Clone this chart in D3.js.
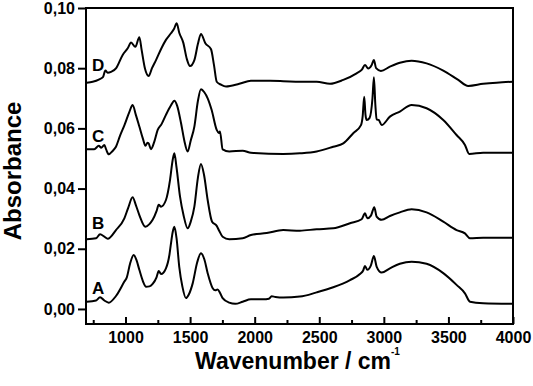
<!DOCTYPE html>
<html>
<head>
<meta charset="utf-8">
<script src="https://cdn.jsdelivr.net/npm/d3@7"></script>
<style>
  body { margin: 0; background: #fff; }
  svg text { font-family: "Liberation Sans", Arial, sans-serif; font-weight: bold; fill: #000; }
</style>
</head>
<body>
<div id="main"></div>
<script>
// FTIR spectra, [wavenumber, absorbance]
const seriesA = [[700,0.0024],[772,0.0028],[803,0.0039],[836,0.0028],[870,0.0021],[926,0.0043],[991,0.0091],[1010,0.0105],[1035,0.015],[1063,0.0179],[1085,0.0162],[1107,0.013],[1135,0.0092],[1159,0.0074],[1185,0.0075],[1210,0.0083],[1240,0.0105],[1257,0.0126],[1275,0.0116],[1313,0.0135],[1340,0.018],[1352,0.0218],[1365,0.0255],[1378,0.0273],[1395,0.0235],[1416,0.014],[1440,0.0075],[1468,0.0036],[1490,0.0048],[1520,0.0085],[1555,0.0155],[1584,0.0185],[1610,0.0165],[1636,0.0119],[1675,0.0069],[1695,0.0062],[1713,0.0065],[1730,0.0055],[1752,0.0036],[1803,0.0021],[1850,0.0017],[1907,0.0024],[1971,0.0032],[2067,0.0032],[2110,0.0034],[2131,0.0042],[2160,0.004],[2221,0.0038],[2350,0.0041],[2480,0.0055],[2608,0.0072],[2738,0.0096],[2815,0.0116],[2840,0.0128],[2854,0.0143],[2872,0.013],[2900,0.0145],[2923,0.0176],[2944,0.0141],[2983,0.0121],[3047,0.0135],[3124,0.015],[3215,0.0157],[3331,0.015],[3460,0.0119],[3563,0.008],[3628,0.0052],[3667,0.0024],[3769,0.0019],[4000,0.0017]];
const seriesB = [[700,0.0232],[772,0.0235],[803,0.0248],[836,0.024],[862,0.0233],[926,0.0262],[991,0.0301],[1020,0.0335],[1055,0.0371],[1080,0.0345],[1107,0.0312],[1154,0.0273],[1185,0.0282],[1210,0.0296],[1240,0.0325],[1257,0.0346],[1275,0.034],[1313,0.0362],[1345,0.043],[1365,0.0495],[1378,0.0517],[1395,0.047],[1422,0.0373],[1450,0.031],[1481,0.0268],[1505,0.029],[1533,0.034],[1560,0.0435],[1584,0.0482],[1608,0.0445],[1636,0.0362],[1670,0.029],[1706,0.0276],[1725,0.026],[1752,0.024],[1803,0.0232],[1907,0.0235],[1971,0.0246],[2093,0.0252],[2221,0.0262],[2350,0.026],[2480,0.0265],[2608,0.0268],[2738,0.0285],[2828,0.0298],[2854,0.0318],[2872,0.0301],[2900,0.031],[2926,0.0338],[2944,0.0307],[2983,0.0296],[3047,0.0309],[3124,0.0321],[3215,0.0331],[3331,0.0321],[3460,0.029],[3563,0.0262],[3628,0.0251],[3667,0.0235],[3769,0.0237],[4000,0.0237]];
const seriesC = [[700,0.0531],[758,0.0531],[793,0.0542],[812,0.0536],[836,0.0545],[850,0.053],[870,0.0514],[900,0.0525],[926,0.0539],[957,0.0575],[991,0.061],[1030,0.0655],[1055,0.0678],[1080,0.0645],[1107,0.0606],[1135,0.0565],[1154,0.0542],[1170,0.0552],[1179,0.055],[1197,0.0531],[1223,0.0556],[1249,0.0595],[1280,0.0615],[1313,0.0645],[1350,0.0675],[1378,0.0692],[1400,0.0675],[1430,0.0617],[1455,0.056],[1481,0.0523],[1505,0.056],[1533,0.0606],[1560,0.069],[1584,0.073],[1610,0.072],[1636,0.07],[1667,0.0661],[1706,0.0595],[1722,0.0585],[1731,0.059],[1752,0.053],[1803,0.0523],[1907,0.0526],[1971,0.0519],[2221,0.0515],[2350,0.0517],[2480,0.0523],[2608,0.0539],[2686,0.055],[2763,0.0584],[2823,0.0611],[2836,0.064],[2848,0.0705],[2858,0.0645],[2867,0.0628],[2890,0.0635],[2912,0.07],[2923,0.077],[2934,0.068],[2944,0.063],[2960,0.0628],[2983,0.0611],[3047,0.0639],[3124,0.0656],[3215,0.0678],[3331,0.0667],[3460,0.0628],[3563,0.0578],[3628,0.0545],[3661,0.0515],[3769,0.0519],[4000,0.0519]];
const seriesD = [[700,0.0752],[746,0.0755],[797,0.0763],[825,0.077],[844,0.0792],[862,0.0785],[888,0.0788],[926,0.0799],[978,0.0844],[1017,0.0866],[1043,0.0885],[1076,0.0871],[1107,0.0903],[1125,0.086],[1150,0.08],[1179,0.0774],[1205,0.08],[1236,0.0827],[1280,0.0868],[1313,0.0894],[1352,0.0916],[1375,0.093],[1396,0.0949],[1416,0.0918],[1447,0.0885],[1475,0.083],[1499,0.0807],[1533,0.0827],[1560,0.088],[1584,0.0914],[1618,0.0883],[1662,0.0863],[1685,0.081],[1706,0.0755],[1740,0.0745],[1778,0.0739],[1881,0.0748],[1971,0.0758],[2119,0.0758],[2221,0.0757],[2350,0.0755],[2480,0.0755],[2583,0.0748],[2686,0.0761],[2789,0.0783],[2830,0.0795],[2854,0.0811],[2879,0.0799],[2905,0.081],[2923,0.0827],[2940,0.08],[2977,0.0791],[3047,0.0805],[3124,0.0818],[3215,0.0825],[3331,0.0816],[3460,0.0792],[3576,0.0761],[3653,0.0741],[3769,0.0748],[3872,0.0752],[4000,0.0755]];

const seriesNames = ["A", "B", "C", "D"];
const labelPos = [[740, 0.005], [740, 0.0266], [740, 0.0556], [740, 0.0792]];

const xMajorTicks = [1000, 1500, 2000, 2500, 3000, 3500, 4000];
const xMinorTicks = [750, 1250, 1750, 2250, 2750, 3250, 3750];
const yTicks = [0, 0.02, 0.04, 0.06, 0.08, 0.10];

const ctx = {
    WIDTH: 533,
    HEIGHT: 386,
    margin: {top: 8, right: 20, bottom: 62, left: 86},
};

function createViz(){
    const m = ctx.margin;
    const w = ctx.WIDTH - m.left - m.right;
    const h = ctx.HEIGHT - m.top - m.bottom;

    const svg = d3.select("#main").append("svg")
        .attr("width", ctx.WIDTH)
        .attr("height", ctx.HEIGHT);
    const g = svg.append("g").attr("transform", `translate(${m.left},${m.top})`);

    const x = d3.scaleLinear().domain([694, 4000]).range([0, w]);
    const y = d3.scaleLinear().domain([-0.005, 0.10]).range([h, 0]);

    // x axis: inward ticks
    const xAxis = g.append("g").attr("transform", `translate(0,${h})`)
        .call(d3.axisBottom(x).tickValues(xMajorTicks).tickSize(-7).tickPadding(8).tickFormat(d3.format("d")));
    const xMinor = g.append("g").attr("transform", `translate(0,${h})`)
        .call(d3.axisBottom(x).tickValues(xMinorTicks).tickSize(-4).tickFormat(""));
    // y axis: outward ticks, comma decimals
    const yAxis = g.append("g")
        .call(d3.axisLeft(y).tickValues(yTicks).tickSize(8).tickPadding(3)
              .tickFormat(d => d3.format(".2f")(d).replace(".", ",")));

    [xAxis, xMinor, yAxis].forEach(a => {
        a.select(".domain").remove();
        a.selectAll("line").attr("stroke", "#000").attr("stroke-width", 2);
        a.selectAll("text").attr("font-size", 16).attr("font-family", null);
    });

    // frame
    g.append("rect")
        .attr("width", w).attr("height", h)
        .attr("fill", "none").attr("stroke", "#000").attr("stroke-width", 2);

    const line = d3.line()
        .x(d => x(d[0]))
        .y(d => y(d[1]))
        .curve(d3.curveMonotoneX);

    const allSeries = [seriesA, seriesB, seriesC, seriesD];
    g.append("g").selectAll("path")
        .data(allSeries)
        .enter()
        .append("path")
        .attr("d", line)
        .attr("fill", "none")
        .attr("stroke", "#000")
        .attr("stroke-width", 2)
        .attr("stroke-linejoin", "round");

    g.append("g").selectAll("text")
        .data(seriesNames)
        .enter()
        .append("text")
        .attr("x", (d, i) => x(labelPos[i][0]))
        .attr("y", (d, i) => y(labelPos[i][1]))
        .attr("font-size", 17)
        .text(d => d);

    // axis titles
    const xt = svg.append("text")
        .attr("x", m.left + w / 2 - 2)
        .attr("y", 369)
        .attr("text-anchor", "middle")
        .attr("font-size", 23);
    xt.append("tspan").text("Wavenumber / cm");
    xt.append("tspan").attr("dy", -14).attr("font-size", 10).text("-1");

    svg.append("text")
        .attr("transform", "translate(21,171) rotate(-90)")
        .attr("text-anchor", "middle")
        .attr("font-size", 24)
        .text("Absorbance");
}

createViz();
</script>
</body>
</html>
